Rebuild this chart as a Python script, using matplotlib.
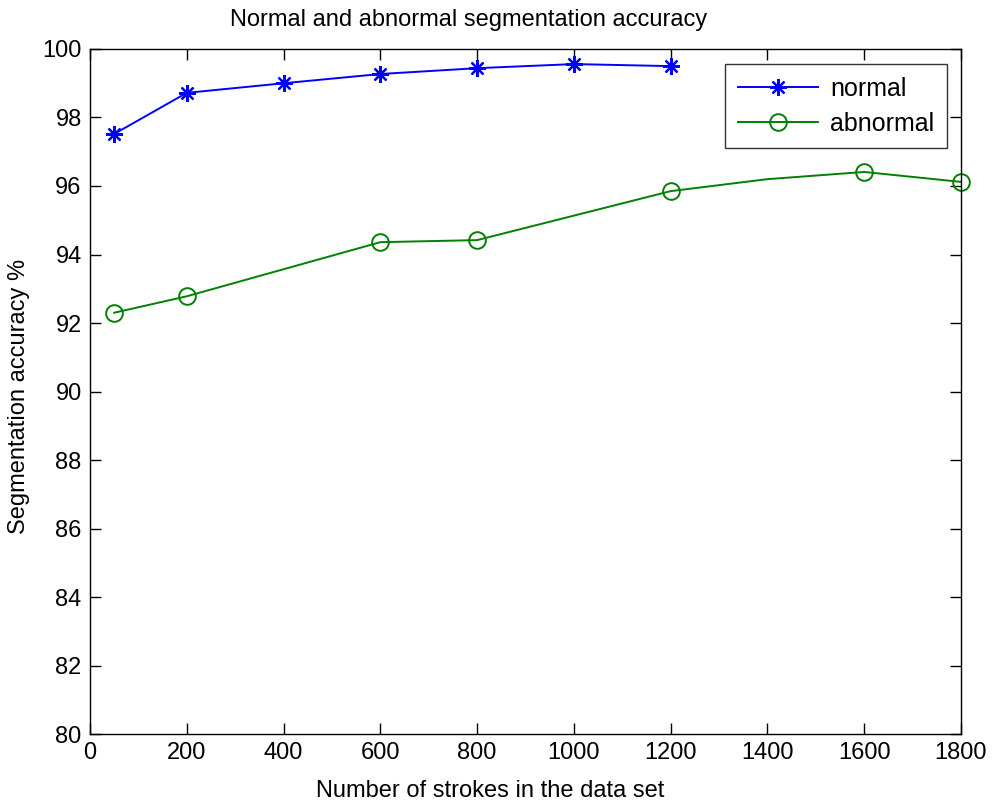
import numpy as np
import matplotlib.pyplot as plt

plt.rcParams['font.family'] = ['Liberation Sans', 'DejaVu Sans']

# Data
strokes_normal = [50, 200, 400, 600, 800, 1000, 1200]
acc_normal = [97.52, 98.72, 99.0, 99.27, 99.44, 99.56, 99.50]

# abnormal curve; the 1400 point is an unmarked vertex of the line
strokes_abnormal = [50, 200, 600, 800, 1200, 1400, 1600, 1800]
acc_abnormal = [92.3, 92.78, 94.36, 94.42, 95.85, 96.2, 96.41, 96.12]
abnormal_marked = [0, 1, 2, 3, 4, 6, 7]

x_ticks = list(range(0, 1801, 200))
y_ticks = list(range(80, 101, 2))

fig = plt.figure(figsize=(9.95, 8.05), dpi=100)
ax = fig.add_axes([90 / 995, 71 / 805, 871 / 995, 685 / 805])

ax.plot(strokes_normal, acc_normal, color='blue', lw=1.4, marker=(8, 2, 0),
        markersize=12, markeredgewidth=1.6, label='normal')
ax.plot(strokes_abnormal, acc_abnormal, color=(0, 0.5, 0), lw=1.4, marker='o',
        markersize=12, markerfacecolor='none', markeredgewidth=1.4,
        markevery=abnormal_marked, label='abnormal', clip_on=False)

ax.set_xlim(0, 1800)
ax.set_ylim(80, 100)
ax.set_xticks(x_ticks)
ax.set_yticks(y_ticks)
ax.tick_params(direction='in', length=8, width=1, top=True, right=True,
               labelsize=17, pad=6)
for s in ax.spines.values():
    s.set_linewidth(1)

ax.set_xlabel('Number of strokes in the data set', fontsize=17)
ax.xaxis.set_label_coords(0.46, -0.083)
ax.xaxis.label.set_va('center')
ax.set_ylabel('Segmentation accuracy %', fontsize=17)
ax.yaxis.set_label_coords(-0.0815, 0.493)
ax.yaxis.label.set_va('center')
fig.text(469 / 995, 1 - 20 / 805, 'Normal and abnormal segmentation accuracy',
         fontsize=17, ha='center', va='center')

leg = ax.legend(loc='upper right', bbox_to_anchor=(947 / 995, 1 - 64 / 805),
                bbox_transform=fig.transFigure, fontsize=18, frameon=True,
                fancybox=False, edgecolor='black', handlelength=3.2,
                borderaxespad=0, borderpad=0.5, labelspacing=0.45,
                handletextpad=0.5)
leg.get_frame().set_linewidth(1)

fig.savefig('out.png', dpi=100)
